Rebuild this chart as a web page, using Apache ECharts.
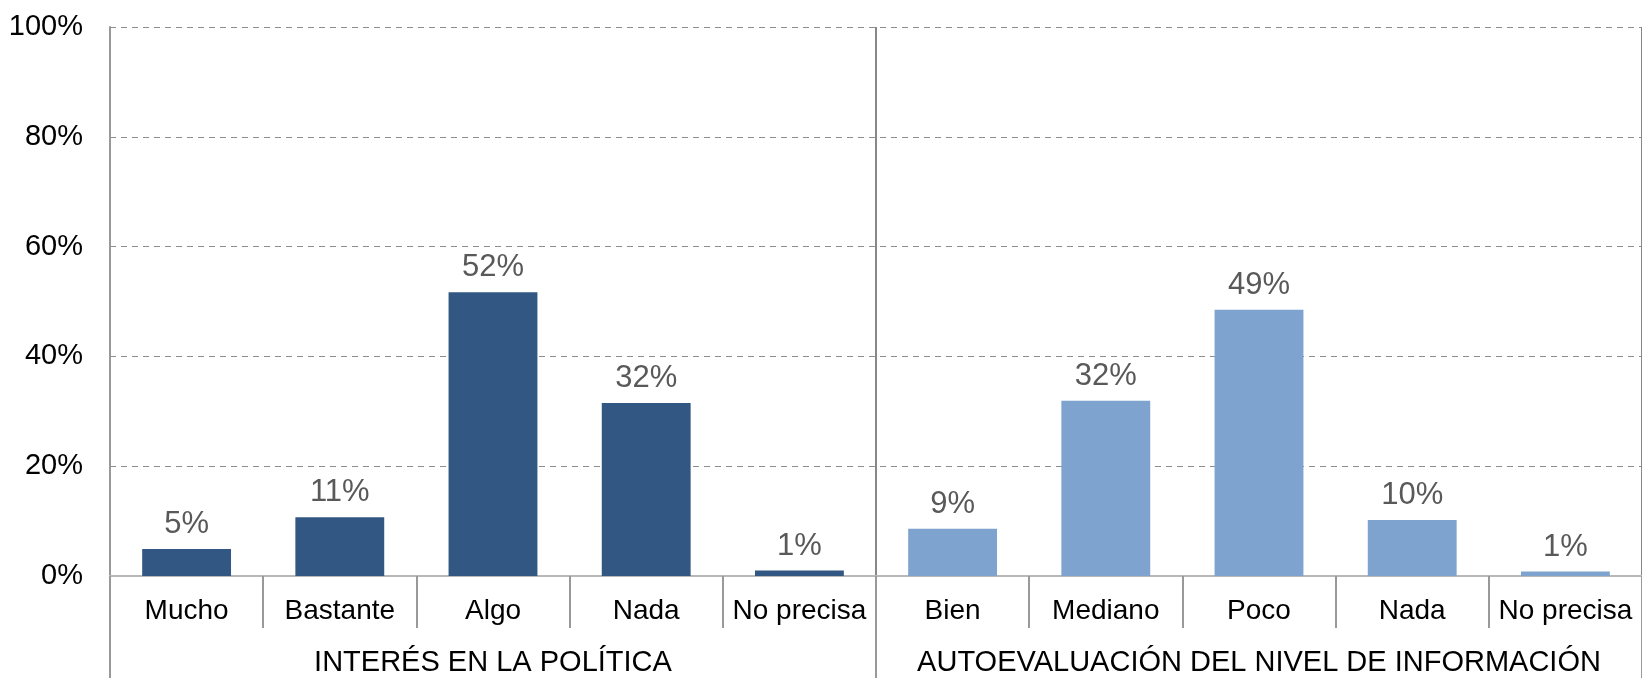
<!DOCTYPE html>
<html>
<head>
<meta charset="utf-8">
<script src="https://cdn.jsdelivr.net/npm/echarts@6/dist/echarts.min.js"></script>
<style>
  html, body { margin: 0; padding: 0; background: #fff; }
  #chart { width: 1642px; height: 678px; }
</style>
</head>
<body>
<div id="chart"></div>
<script>
// categories
const categories = ['Mucho', 'Bastante', 'Algo', 'Nada', 'No precisa',
                    'Bien', 'Mediano', 'Poco', 'Nada', 'No precisa'];
const groups = ['INTERÉS EN LA POLÍTICA', 'AUTOEVALUACIÓN DEL NIVEL DE INFORMACIÓN'];
// values (%)
const interes = [4.9, 10.7, 51.7, 31.5, 1.0, '-', '-', '-', '-', '-'];
const informacion = ['-', '-', '-', '-', '-', 8.6, 31.9, 48.5, 10.2, 0.8];
const yTicks = [0, 20, 40, 60, 80, 100];

const font = 'Arial, "Liberation Sans", sans-serif';
const chart = echarts.init(document.getElementById('chart'));

const labelStyle = {
  show: true,
  position: 'top',
  distance: 9,
  color: '#595959',
  fontSize: 31,
  fontFamily: font,
  formatter: p => Math.round(p.value) + '%'
};

const option = {
  animation: false,
  grid: { left: 110, right: -4, top: 27, bottom: 102 },
  xAxis: [
    {
      type: 'category',
      data: categories,
      position: 'bottom',
      axisLine: { lineStyle: { color: '#b8b8b8', width: 2 } },
      axisTick: { show: true, interval: 0, length: 52, lineStyle: { color: '#999', width: 2 } },
      axisLabel: { color: '#000', fontSize: 28, fontFamily: font, margin: 21, interval: 0 },
      splitLine: { show: false }
    },
    {
      type: 'category',
      data: groups,
      position: 'bottom',
      axisLine: { show: false },
      axisTick: { show: true, interval: 0, length: 102, lineStyle: { color: '#999', width: 2 } },
      axisLabel: { color: '#000', fontSize: 29, fontFamily: font, margin: 72, interval: 0 },
      splitLine: { show: true, interval: 0, lineStyle: { color: '#888', width: 2 } }
    }
  ],
  yAxis: {
    type: 'value',
    min: yTicks[0],
    max: yTicks[yTicks.length - 1],
    interval: 20,
    axisLine: { show: true, lineStyle: { color: '#999', width: 2 } },
    axisTick: { show: false },
    axisLabel: { color: '#000', fontSize: 29, fontFamily: font, margin: 27, formatter: '{value}%' },
    splitLine: { lineStyle: { color: '#8c8c8c', type: [6, 5], width: 1 } }
  },
  series: [
    {
      type: 'bar',
      stack: 'a',
      data: interes,
      barWidth: '58%',
      itemStyle: { color: '#325783' },
      label: labelStyle
    },
    {
      type: 'bar',
      stack: 'a',
      data: informacion,
      barWidth: '58%',
      itemStyle: { color: '#7ea3ce' },
      label: labelStyle
    }
  ]
};

chart.setOption(option);
</script>
</body>
</html>
